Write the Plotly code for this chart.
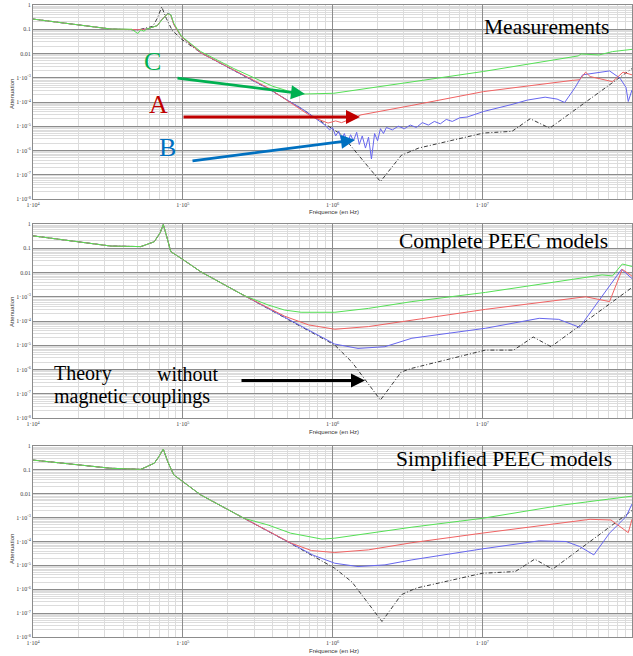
import plotly.graph_objects as go

# ------------------------------------------------------------------ data
# Panel 1 : Measurements
MEAS_THEORY_F = [1.0e4, 1.82e4, 3.31e4, 5.01e4, 6.31e4, 6.76e4, 7.24e4, 7.76e4, 8.51e4, 9.77e4,
                 1.32e5, 2.19e5, 3.72e5, 6.31e5, 1.15e6, 2.09e6, 2.88e6, 3.76e6, 1.02e7, 1.58e7,
                 2.09e7, 2.82e7, 1.0e8]
MEAS_THEORY_A = [0.263, 0.158, 0.102, 0.0933, 0.132, 0.282, 0.832, 0.282, 0.0891, 0.0398,
                 0.0107, 2.0e-3, 3.55e-4, 5.01e-5, 4.47e-6, 5.25e-8, 6.31e-7, 1.26e-6, 5.25e-6, 6.17e-6,
                 2.04e-5, 8.32e-6, 2.40e-3]

MEAS_A_F = [1.0e4, 1.82e4, 3.31e4, 5.01e4, 5.75e4, 6.76e4, 7.24e4, 7.94e4, 8.32e4, 8.71e4,
            9.77e4, 1.32e5, 2.19e5, 3.72e5, 6.17e5, 7.24e5, 9.33e5, 1.05e6, 1.15e6, 1.55e6,
            3.39e6, 1.02e7, 3.98e7, 4.47e7, 4.90e7, 5.25e7, 7.41e7, 8.71e7, 1.0e8]
MEAS_A_A = [0.263, 0.158, 0.102, 0.0955, 0.102, 0.141, 0.251, 0.437, 0.380, 0.158,
            0.0501, 0.0107, 2.09e-3, 3.80e-4, 4.79e-5, 2.51e-5, 1.35e-5, 1.66e-5, 1.41e-5, 2.95e-5,
            7.24e-5, 2.69e-4, 7.76e-4, 8.32e-4, 1.70e-3, 1.12e-3, 6.92e-4, 1.70e-3, 1.32e-3]

MEAS_C_F = [1.0e4, 1.82e4, 3.31e4, 4.57e4, 5.01e4, 5.25e4, 5.50e4, 5.75e4, 6.76e4, 7.24e4,
            7.94e4, 8.32e4, 8.71e4, 9.77e4, 1.32e5, 2.19e5, 2.88e5, 3.98e5, 5.25e5, 6.46e5,
            1.02e6, 3.39e6, 1.02e7, 4.37e7, 4.57e7, 6.03e7, 7.41e7, 1.0e8]
MEAS_C_A = [0.263, 0.158, 0.102, 0.100, 0.0661, 0.0955, 0.0832, 0.102, 0.141, 0.240,
            0.437, 0.398, 0.178, 0.0525, 0.0120, 2.40e-3, 1.10e-3, 4.47e-4, 2.63e-4, 2.14e-4,
            2.29e-4, 6.92e-4, 1.82e-3, 7.94e-3, 9.55e-3, 8.71e-3, 0.0120, 0.0148]

MEAS_B_F = [1.0e4, 1.82e4, 3.31e4, 5.01e4, 5.75e4, 6.76e4, 7.24e4, 7.94e4, 8.32e4, 8.71e4,
            9.77e4, 1.32e5, 2.19e5, 3.72e5, 6.31e5, 8.91e5,
            9.55e5, 1.0e6, 1.05e6, 1.10e6, 1.15e6, 1.20e6, 1.26e6, 1.32e6, 1.38e6, 1.45e6,
            1.51e6, 1.58e6, 1.66e6, 1.74e6, 1.82e6, 1.91e6, 2.0e6, 2.09e6, 2.19e6, 2.29e6,
            2.51e6, 2.75e6, 3.02e6, 3.31e6, 3.63e6, 3.98e6, 4.37e6, 4.79e6, 5.25e6, 5.75e6,
            6.31e6, 7.08e6, 7.94e6, 1.02e7, 1.58e7, 2.0e7, 2.63e7, 3.16e7, 3.55e7, 4.17e7,
            4.68e7, 6.03e7, 7.08e7, 8.32e7, 9.12e7, 9.44e7, 1.0e8]
MEAS_B_A = [0.263, 0.158, 0.102, 0.0955, 0.102, 0.141, 0.251, 0.457, 0.398, 0.158,
            0.0501, 0.0107, 2.0e-3, 3.55e-4, 5.01e-5, 1.12e-5,
            7.08e-6, 8.91e-6, 3.98e-6, 6.31e-6, 2.82e-6, 5.01e-6, 2.0e-6, 4.47e-6, 2.51e-6, 5.62e-6,
            1.78e-6, 3.98e-6, 1.26e-6, 3.55e-6, 4.47e-7, 5.01e-6, 2.51e-6, 7.94e-6, 5.01e-6, 8.91e-6,
            7.08e-6, 1.0e-5, 7.94e-6, 1.12e-5, 8.91e-6, 1.41e-5, 1.12e-5, 1.58e-5, 1.26e-5, 1.91e-5,
            1.58e-5, 2.24e-5, 2.40e-5, 4.07e-5, 7.94e-5, 1.20e-4, 1.58e-4, 1.32e-4, 9.55e-5, 3.98e-4,
            1.32e-3, 1.66e-3, 1.91e-3, 9.55e-4, 3.98e-4, 1.05e-4, 3.16e-4]

# Panel 2 : Complete PEEC models (common low-frequency part + individual high-frequency parts)
CPL_LOW_F = [1.0e4, 1.82e4, 3.31e4, 5.25e4, 6.46e4, 7.08e4, 7.41e4, 7.76e4, 8.32e4, 1.0e5, 1.32e5, 2.57e5]
CPL_LOW_A = [0.324, 0.195, 0.123, 0.117, 0.186, 0.447, 0.955, 0.355, 0.0724, 0.0347, 0.0107, 1.12e-3]

CPL_THEORY_F = [4.79e5, 1.035e6, 1.35e6, 2.09e6, 2.88e6, 3.39e6, 1.05e7, 1.62e7, 2.19e7, 2.88e7, 1.0e8]
CPL_THEORY_A = [1.38e-4, 1.02e-5, 2.0e-6, 5.50e-8, 7.94e-7, 1.12e-6, 6.31e-6, 6.31e-6, 2.19e-5, 8.71e-6, 2.40e-3]
CPL_A_F = [4.79e5, 6.92e5, 1.035e6, 1.74e6, 3.39e6, 1.05e7, 4.90e7, 6.31e7, 7.08e7, 8.61e7, 1.0e8]
CPL_A_A = [1.58e-4, 6.92e-5, 4.57e-5, 5.89e-5, 1.10e-4, 3.02e-4, 1.0e-3, 7.08e-4, 6.31e-4, 0.0135, 7.08e-3]
CPL_C_F = [3.72e5, 4.79e5, 6.17e5, 1.035e6, 1.74e6, 3.39e6, 1.05e7, 6.31e7, 7.41e7, 8.61e7, 1.0e8]
CPL_C_A = [4.57e-4, 2.82e-4, 2.29e-4, 2.29e-4, 3.31e-4, 6.31e-4, 1.51e-3, 7.94e-3, 7.24e-3, 0.0224, 0.0178]
CPL_B_F = [4.79e5, 1.035e6, 1.48e6, 2.24e6, 3.39e6, 1.05e7, 2.40e7, 3.24e7, 4.47e7, 6.03e7, 8.51e7, 1.0e8]
CPL_B_A = [1.38e-4, 1.12e-5, 7.41e-6, 8.71e-6, 1.95e-5, 5.01e-5, 1.29e-4, 1.17e-4, 5.50e-5, 7.41e-4, 0.0135, 5.62e-3]

# Panel 3 : Simplified PEEC models
SMP_LOW_F = [1.0e4, 1.82e4, 3.31e4, 5.25e4, 6.46e4, 6.92e4, 7.41e4, 7.94e4, 8.71e4, 1.0e5, 1.32e5, 2.57e5]
SMP_LOW_A = [0.257, 0.174, 0.117, 0.105, 0.191, 0.355, 0.741, 0.219, 0.0617, 0.0324, 8.91e-3, 9.33e-4]

SMP_THEORY_F = [5.25e5, 1.035e6, 1.35e6, 2.14e6, 2.88e6, 3.63e6, 1.0e7, 1.66e7, 2.24e7, 2.95e7, 1.0e8]
SMP_THEORY_A = [8.32e-5, 7.59e-6, 2.0e-6, 4.47e-8, 5.89e-7, 1.12e-6, 4.68e-6, 5.50e-6, 1.82e-5, 6.92e-6, 2.0e-3]
SMP_A_F = [5.25e5, 7.24e5, 1.035e6, 1.74e6, 3.39e6, 1.0e7, 5.25e7, 7.24e7, 9.44e7, 1.0e8]
SMP_A_A = [8.71e-5, 4.17e-5, 3.47e-5, 4.47e-5, 8.91e-5, 2.24e-4, 8.51e-4, 7.94e-4, 2.34e-4, 8.51e-4]
SMP_C_F = [3.72e5, 5.25e5, 8.51e5, 1.035e6, 3.39e6, 1.0e7, 3.47e7, 1.0e8]
SMP_C_A = [4.90e-4, 2.24e-4, 1.26e-4, 1.38e-4, 3.98e-4, 9.33e-4, 3.39e-3, 7.94e-3]
SMP_B_F = [5.25e5, 7.41e5, 1.035e6, 1.48e6, 2.24e6, 3.39e6, 1.0e7, 2.40e7, 3.63e7, 4.47e7, 5.56e7, 7.08e7, 9.12e7, 1.0e8]
SMP_B_A = [8.32e-5, 2.69e-5, 1.23e-5, 8.91e-6, 1.05e-5, 1.70e-5, 4.90e-5, 1.07e-4, 1.0e-4, 6.17e-5, 2.75e-5, 2.24e-4, 1.10e-3, 3.72e-3]

X_TICKS = [1e4, 1e5, 1e6, 1e7, 1e8]
X_TICK_TEXT = ["1·10<sup>4</sup>", "1·10<sup>5</sup>", "1·10<sup>6</sup>", "1·10<sup>7</sup>", "1·10<sup>8</sup>"]
Y_TICKS = [1, 0.1, 0.01, 1e-3, 1e-4, 1e-5, 1e-6, 1e-7, 1e-8]
Y_TICK_TEXT = ["1", "0.1", "0.01", "1·10<sup>-3</sup>", "1·10<sup>-4</sup>", "1·10<sup>-5</sup>",
               "1·10<sup>-6</sup>", "1·10<sup>-7</sup>", "1·10<sup>-8</sup>"]
PANEL_TITLES = ["Measurements", "Complete PEEC models", "Simplified PEEC models"]
X_TITLE = "Fréquence (en Hz)"
Y_TITLE = "Attenuation"

# ------------------------------------------------------------------ styling / layout
W, H = 633, 656
ML, MR = 33, 1
PW = W - ML - MR


def pxx(x):
    return (x - ML) / PW


def pyy(y):
    return 1 - y / H


C_GREEN = "#55e055"
C_RED = "#f06262"
C_BLUE = "#6666ee"
C_BLACK = "#3a3a3a"
GRID_MAJOR = "#8c8c8c"
GRID_MINOR = "#dcdcdc"

# panel pixel extents (top, bottom)
PANEL_BOX = [(5, 199), (224, 418), (446, 637)]

panels = [
    [(MEAS_THEORY_F, MEAS_THEORY_A, C_BLACK, True),
     (MEAS_B_F, MEAS_B_A, C_BLUE, False),
     (MEAS_A_F, MEAS_A_A, C_RED, False),
     (MEAS_C_F, MEAS_C_A, C_GREEN, False)],
    [(CPL_LOW_F + CPL_THEORY_F, CPL_LOW_A + CPL_THEORY_A, C_BLACK, True),
     (CPL_LOW_F + CPL_B_F, CPL_LOW_A + CPL_B_A, C_BLUE, False),
     (CPL_LOW_F + CPL_A_F, CPL_LOW_A + CPL_A_A, C_RED, False),
     (CPL_LOW_F + CPL_C_F, CPL_LOW_A + CPL_C_A, C_GREEN, False)],
    [(SMP_LOW_F + SMP_THEORY_F, SMP_LOW_A + SMP_THEORY_A, C_BLACK, True),
     (SMP_LOW_F + SMP_B_F, SMP_LOW_A + SMP_B_A, C_BLUE, False),
     (SMP_LOW_F + SMP_A_F, SMP_LOW_A + SMP_A_A, C_RED, False),
     (SMP_LOW_F + SMP_C_F, SMP_LOW_A + SMP_C_A, C_GREEN, False)],
]

x_minor = [m * 10 ** e for e in range(4, 8) for m in range(2, 10)]
y_minor = [m * 10.0 ** e for e in range(-8, 0) for m in range(2, 10)]

fig = go.Figure()
layout = dict(
    width=W, height=H,
    margin=dict(l=ML, r=MR, t=0, b=0, pad=0),
    paper_bgcolor="white", plot_bgcolor="white",
    showlegend=False,
)

for i, series in enumerate(panels):
    sfx = "" if i == 0 else str(i + 1)
    for f, a, col, dashed in series:
        fig.add_trace(go.Scatter(
            x=f, y=a, mode="lines", xaxis="x" + sfx, yaxis="y" + sfx,
            line=dict(color=col, width=1, dash="4px,2px,1px,2px" if dashed else "solid"),
            hoverinfo="skip"))
    top, bot = PANEL_BOX[i]
    layout["xaxis" + sfx] = dict(
        type="log", range=[4, 8], domain=[0, 1], anchor="y" + sfx,
        tickmode="array", tickvals=X_TICKS, ticktext=X_TICK_TEXT,
        tickfont=dict(family="Liberation Serif", size=6, color="#444"),
        showgrid=True, gridcolor=GRID_MAJOR, gridwidth=1,
        minor=dict(tickmode="array", tickvals=x_minor, showgrid=True,
                   gridcolor=GRID_MINOR, gridwidth=1, ticks=""),
        showline=True, mirror=True, linecolor=GRID_MAJOR, linewidth=1,
        ticks="", zeroline=False, automargin=False, fixedrange=True)
    layout["yaxis" + sfx] = dict(
        type="log", range=[-8, 0], domain=[pyy(bot), pyy(top)], anchor="x" + sfx,
        tickmode="array", tickvals=Y_TICKS, ticktext=Y_TICK_TEXT,
        tickfont=dict(family="Liberation Serif", size=6, color="#444"),
        showgrid=True, gridcolor=GRID_MAJOR, gridwidth=1,
        minor=dict(tickmode="array", tickvals=y_minor, showgrid=True,
                   gridcolor=GRID_MINOR, gridwidth=1, ticks=""),
        showline=True, mirror=True, linecolor=GRID_MAJOR, linewidth=1,
        ticks="", zeroline=False, automargin=False, fixedrange=True)

fig.update_layout(**layout)

ann = []
serif = "Liberation Serif"
# axis titles
for (ytitle_c, xtitle_y) in [(94, 212), (312, 432), (549, 651)]:
    ann.append(dict(text=Y_TITLE, x=pxx(12), y=pyy(ytitle_c), xref="paper", yref="paper",
                    textangle=-90, showarrow=False, xanchor="center", yanchor="middle",
                    font=dict(family="Liberation Sans", size=6, color="#333")))
    ann.append(dict(text=X_TITLE, x=pxx(334), y=pyy(xtitle_y), xref="paper", yref="paper",
                    showarrow=False, xanchor="center", yanchor="middle",
                    font=dict(family="Liberation Sans", size=6, color="#333")))

# panel titles
for txt, (cx, cy) in zip(PANEL_TITLES, [(546.5, 27), (503.5, 240.5), (503.5, 458.5)]):
    ann.append(dict(text=txt, x=pxx(cx), y=pyy(cy), xref="paper", yref="paper", showarrow=False,
                    xanchor="center", yanchor="middle", font=dict(family=serif, size=21.5, color="black")))

# theory label (justified first line)
for txt, x, y, xa in [("Theory", 52, 373.5, "left"), ("without", 221, 373.5, "right"),
                      ("magnetic couplings", 52, 396.5, "left")]:
    ann.append(dict(text=txt, x=pxx(x), y=pyy(y), xref="paper", yref="paper", showarrow=False,
                    xanchor=xa, yanchor="middle", font=dict(family=serif, size=20, color="black")))

# letters
LBL_GREEN, LBL_RED, LBL_BLUE = "#00b050", "#c00000", "#0070c0"
for txt, x, y, col in [("C", 152.5, 62, LBL_GREEN), ("A", 158.5, 104, LBL_RED), ("B", 167, 147.5, LBL_BLUE)]:
    ann.append(dict(text=txt, x=pxx(x), y=pyy(y), xref="paper", yref="paper", showarrow=False,
                    xanchor="center", yanchor="middle", font=dict(family=serif, size=26, color=col)))

# arrows (tail -> head, pixels)
for (tx, ty, hx, hy, col) in [(176, 78, 305, 94, LBL_GREEN), (182, 117, 360, 117, LBL_RED),
                              (191, 161, 355, 140, LBL_BLUE), (240, 380.5, 365, 380.5, "black")]:
    ann.append(dict(text="", x=pxx(hx), y=pyy(hy), xref="paper", yref="paper",
                    ax=tx - hx, ay=ty - hy, axref="pixel", ayref="pixel",
                    showarrow=True, arrowhead=2, arrowsize=1.0, arrowwidth=2.8, arrowcolor=col,
                    standoff=0, startstandoff=0))

fig.update_layout(annotations=ann)
fig.write_html("out.html", config={"displayModeBar": False},
               post_script="document.body.style.margin='0';document.body.style.overflow='hidden';")
